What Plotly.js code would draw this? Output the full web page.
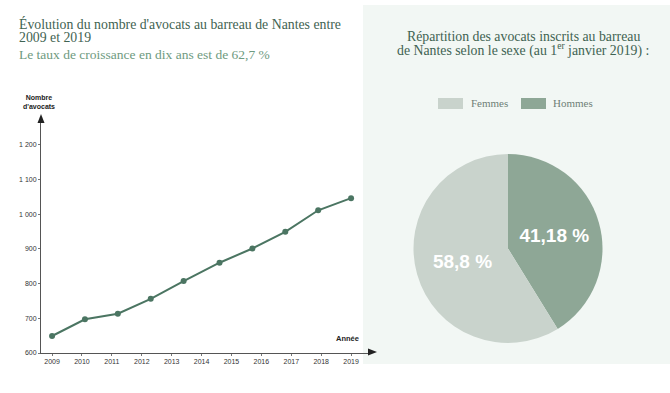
<!DOCTYPE html>
<html>
<head>
<meta charset="utf-8">
<script src="https://cdn.plot.ly/plotly-3.0.1.min.js"></script>
<style>html,body{margin:0;padding:0;background:#fff;}#chart{width:670px;height:393px;}</style>
</head>
<body>
<div id="chart"></div>
<script>
// Data
var annees = [2009, 2010.1, 2011.2, 2012.3, 2013.4, 2014.6, 2015.7, 2016.8, 2017.9, 2019];
var avocats = [649, 697, 713, 756, 807, 860, 901, 949, 1011, 1046];
var xTicks = [2009, 2010, 2011, 2012, 2013, 2014, 2015, 2016, 2017, 2018, 2019];
var yTicks = [600, 700, 800, 900, 1000, 1100, 1200];
var sexes = ["Femmes", "Hommes"];
var parts = [58.8, 41.18];
var partLabels = ["58,8 %", "41,18 %"];

var W = 670, H = 393;
function px(x){ return x / W; }
function py(y){ return 1 - y / H; }

var green = "#3f6352";
var pieColors = ["#c9d3cc", "#8ea796"];
var serif = "Liberation Serif, DejaVu Serif, serif";
var sans = "Liberation Sans, Arial, sans-serif";

var lineTrace = {
  type: "scatter", mode: "lines+markers",
  x: annees, y: avocats,
  line: {color: "#4b7562", width: 2},
  marker: {color: "#4b7562", size: 6},
  hoverinfo: "skip", showlegend: false,
  xaxis: "x", yaxis: "y"
};

// Hommes starts at 12 o'clock and runs clockwise
var pieTrace = {
  type: "pie",
  labels: sexes.slice().reverse(), values: parts.slice().reverse(), text: partLabels.slice().reverse(),
  texttemplate: "%{text}", textposition: "inside",
  insidetextorientation: "horizontal",
  sort: false, direction: "clockwise", rotation: 0,
  marker: {colors: pieColors.slice().reverse(), line: {width: 0}},
  textfont: {family: "Liberation Sans Narrow, Liberation Sans, Arial Narrow, sans-serif", size: 19, color: "#ffffff", weight: "bold"},
  domain: {x: [px(413), px(603)], y: [py(343), py(154)]},
  showlegend: false, hoverinfo: "skip"
};

var shapes = [
  {type: "rect", xref: "paper", yref: "paper", x0: px(363), x1: 1, y0: py(364), y1: py(5),
   fillcolor: "#f2f7f4", line: {width: 0}, layer: "below"},
  {type: "path", xref: "paper", yref: "paper",
   path: "M " + px(41) + " " + py(114) + " L " + px(37.5) + " " + py(123) + " L " + px(44.5) + " " + py(123) + " Z",
   fillcolor: "#222", line: {width: 0}},
  {type: "path", xref: "paper", yref: "paper",
   path: "M " + px(377) + " " + py(352) + " L " + px(368) + " " + py(348.5) + " L " + px(368) + " " + py(355.5) + " Z",
   fillcolor: "#222", line: {width: 0}},
  {type: "rect", xref: "paper", yref: "paper", x0: px(438), x1: px(463), y0: py(109), y1: py(98),
   fillcolor: pieColors[0], line: {width: 0}},
  {type: "rect", xref: "paper", yref: "paper", x0: px(521), x1: px(546), y0: py(109), y1: py(98),
   fillcolor: pieColors[1], line: {width: 0}}
];

function txt(x, y, t, font, xanchor){
  return {xref: "paper", yref: "paper", x: px(x), y: py(y), xanchor: xanchor || "left", yanchor: "middle",
          text: t, showarrow: false, font: font};
}
var titleFont = {family: serif, size: 13.8, color: green};
var annotations = [
  txt(17, 24, "Évolution du nombre d'avocats au barreau de Nantes entre", titleFont),
  txt(17, 37.5, "2009 et 2019", titleFont),
  txt(17, 54, "Le taux de croissance en dix ans est de 62,7 %", {family: serif, size: 13.5, color: "#6e9a80"}),
  txt(523, 36, "Répartition des avocats inscrits au barreau", titleFont, "center"),
  txt(523, 49.5, "de Nantes selon le sexe (au 1<sup>er</sup> janvier 2019) :", titleFont, "center"),
  {xref: "paper", yref: "paper", x: px(39), y: py(112), xanchor: "center", yanchor: "bottom", align: "center",
   text: "Nombre<br>d'avocats",
   showarrow: false, font: {family: sans, size: 7, color: "#222", weight: "bold"}},
  txt(361, 338, "Année", {family: sans, size: 7.5, color: "#222", weight: "bold"}, "right"),
  txt(469, 103.5, sexes[0], {family: serif, size: 11, color: "#6f7f76"}),
  txt(551, 103.5, sexes[1], {family: serif, size: 11, color: "#6f7f76"})
];

var layout = {
  width: W, height: H,
  margin: {l: 0, r: 0, t: 0, b: 0, pad: 0},
  paper_bgcolor: "#ffffff", plot_bgcolor: "rgba(0,0,0,0)",
  separators: ", ",
  showlegend: false,
  xaxis: {
    domain: [px(41), px(372)],
    range: [2008.63, 2019.70],
    tickvals: xTicks, ticktext: xTicks.map(String),
    showgrid: false, zeroline: false,
    showline: true, linecolor: "#555", linewidth: 1,
    ticks: "outside", ticklen: 2, tickcolor: "#777", tickwidth: 1,
    tickfont: {family: sans, size: 7, color: "#333"},
    anchor: "y", fixedrange: true
  },
  yaxis: {
    domain: [py(353), py(120)],
    range: [600, 1271],
    tickvals: yTicks, tickformat: ",d",
    showgrid: false, zeroline: false,
    showline: true, linecolor: "#555", linewidth: 1,
    ticks: "outside", ticklen: 2, tickcolor: "#777", tickwidth: 1,
    tickfont: {family: sans, size: 7, color: "#333"},
    anchor: "x", fixedrange: true
  },
  shapes: shapes,
  annotations: annotations
};

Plotly.newPlot("chart", [lineTrace, pieTrace], layout, {displayModeBar: false, staticPlot: true});
</script>
</body>
</html>
